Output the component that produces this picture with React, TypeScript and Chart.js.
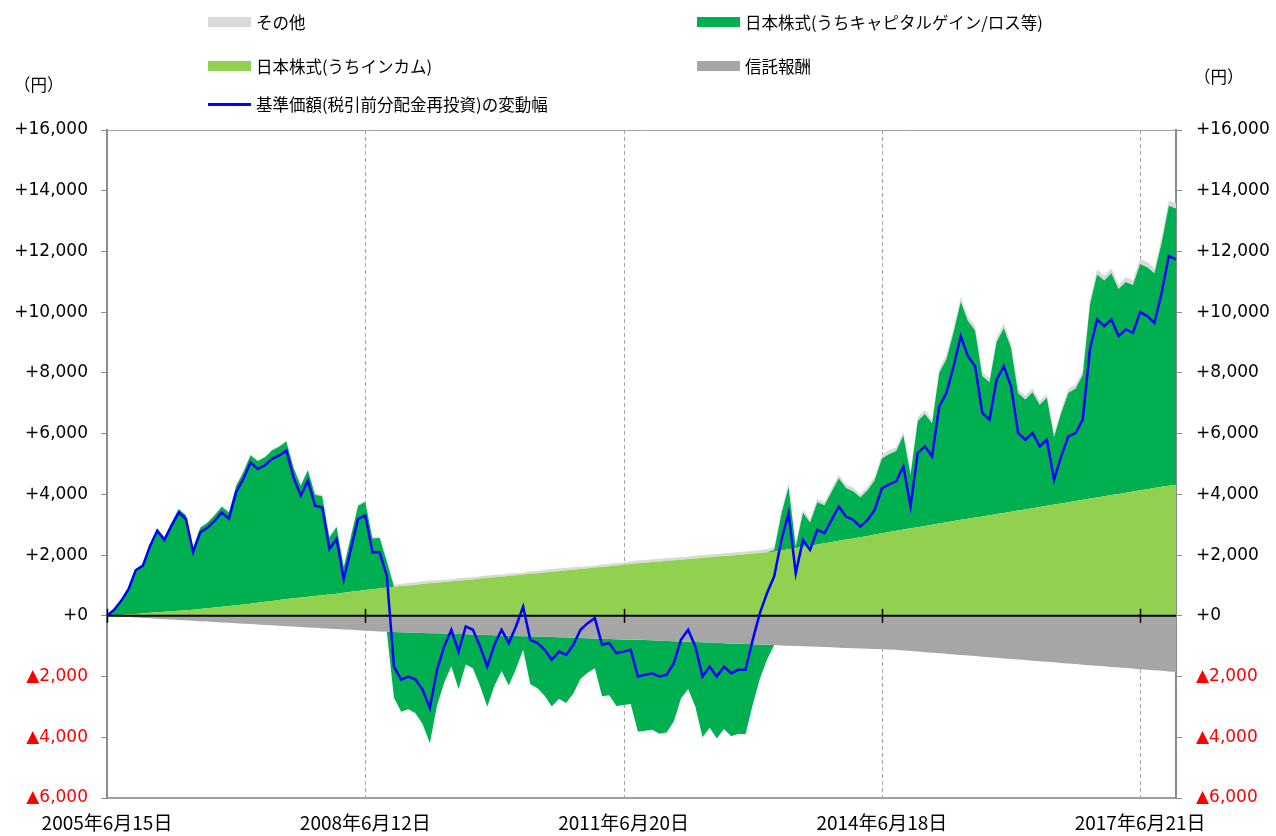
import React, { useEffect, useRef } from 'react';
import { Chart, registerables } from 'chart.js';

Chart.register(...registerables);

// Monthly categories from 2005/6 to 2017/11
const months: string[] = [];
for (let i = 0; i < 150; i++) {
  const y = 2005 + Math.floor((5 + i) / 12);
  const m = ((5 + i) % 12) + 1;
  months.push(`${y}/${m}`);
}

// 基準価額(税引前分配金再投資)の変動幅 (monthly)
const navChange = [
  0, 200, 500, 880, 1500, 1650, 2300, 2800, 2500, 2970,
  3400, 3190, 2100, 2750, 2900, 3130, 3400, 3200, 4070, 4500,
  5050, 4840, 4950, 5170, 5280, 5440, 4560, 3960, 4450, 3630,
  3570, 2200, 2530, 1200, 2200, 3190, 3300, 2090, 2090, 1320,
  -1670, -2100, -2000, -2100, -2440, -3040, -1780, -1010, -460, -1180,
  -350, -460, -1010, -1670, -955, -460, -900, -350, 300, -790,
  -900, -1120, -1450, -1180, -1290, -955, -460, -240, -75, -955,
  -900, -1230, -1180, -1120, -2000, -1945, -1890, -2000, -1945, -1560,
  -790, -460, -1010, -2000, -1670, -2000, -1670, -1890, -1780, -1780,
  -790, 90, 750, 1300, 2500, 3380, 1400, 2500, 2170, 2830,
  2720, 3160, 3600, 3270, 3160, 2940, 3160, 3490, 4200, 4330,
  4430, 4920, 3600, 5360, 5580, 5250, 6900, 7340, 8220, 9210,
  8550, 8220, 6680, 6460, 7780, 8220, 7560, 6020, 5800, 6020,
  5580, 5800, 4480, 5250, 5910, 6020, 6460, 8770, 9760, 9540,
  9760, 9210, 9430, 9320, 10000, 9870, 9650, 10640, 11850, 11740,
];

// 日本株式(うちインカム)
const income = [
  0, 15, 30, 45, 60, 80, 100, 115, 130, 150,
  165, 185, 200, 225, 250, 275, 300, 325, 350, 375,
  400, 430, 460, 490, 520, 550, 575, 600, 625, 650,
  675, 700, 730, 760, 790, 820, 850, 875, 900, 930,
  955, 980, 1000, 1025, 1045, 1070, 1090, 1110, 1135, 1155,
  1180, 1200, 1225, 1245, 1270, 1290, 1315, 1335, 1360, 1385,
  1405, 1430, 1450, 1475, 1500, 1520, 1545, 1565, 1590, 1610,
  1635, 1660, 1680, 1705, 1730, 1750, 1770, 1790, 1810, 1830,
  1850, 1870, 1890, 1910, 1930, 1950, 1970, 1990, 2010, 2030,
  2050, 2070, 2090, 2110, 2150, 2190, 2230, 2270, 2310, 2350,
  2390, 2430, 2470, 2510, 2550, 2590, 2630, 2680, 2720, 2760,
  2800, 2840, 2880, 2920, 2960, 3000, 3040, 3080, 3120, 3160,
  3200, 3240, 3275, 3310, 3350, 3390, 3430, 3470, 3505, 3545,
  3585, 3625, 3665, 3700, 3740, 3780, 3820, 3860, 3900, 3935,
  3975, 4015, 4055, 4095, 4135, 4170, 4210, 4250, 4285, 4320,
];

// 信託報酬
const trustFee = [
  0, -14, -27, -41, -54, -68, -82, -95, -109, -122,
  -136, -150, -163, -177, -190, -204, -218, -231, -245, -258,
  -272, -286, -299, -313, -326, -340, -354, -367, -381, -394,
  -408, -422, -435, -449, -462, -476, -490, -503, -517, -525,
  -532, -540, -548, -555, -563, -570, -578, -586, -593, -601,
  -608, -616, -624, -631, -639, -646, -654, -662, -669, -677,
  -684, -692, -700, -707, -715, -722, -730, -738, -745, -753,
  -760, -768, -776, -783, -790, -799, -808, -818, -827, -836,
  -845, -854, -864, -873, -882, -891, -900, -910, -919, -928,
  -937, -946, -956, -965, -974, -983, -992, -1002, -1011, -1020,
  -1029, -1038, -1048, -1057, -1066, -1075, -1084, -1094, -1103, -1112,
  -1121, -1140, -1158, -1177, -1196, -1215, -1233, -1252, -1271, -1290,
  -1308, -1327, -1346, -1364, -1383, -1402, -1420, -1439, -1458, -1477,
  -1495, -1514, -1533, -1551, -1570, -1589, -1608, -1626, -1645, -1664,
  -1682, -1701, -1720, -1738, -1757, -1776, -1795, -1813, -1832, -1851,
];

// その他
const other = [
  0, 10, 10, 15, 15, 15, 20, 20, 20, 20,
  20, 25, 25, 25, 25, 25, 30, 30, 30, 30,
  30, 30, 30, 35, 35, 35, 35, 35, 35, 35,
  40, 40, 40, 40, 40, 40, 45, 45, 45, 50,
  70, 80, 80, 80, 90, 90, 80, 80, 70, 80,
  70, 70, 80, 80, 80, 70, 80, 70, 60, 80,
  80, 80, 90, 80, 80, 80, 70, 70, 60, 80,
  80, 80, 80, 80, 90, 90, 90, 90, 90, 90,
  80, 80, 90, 90, 90, 90, 90, 90, 90, 90,
  90, 90, 100, 100, 110, 120, 110, 110, 110, 110,
  110, 110, 120, 120, 120, 110, 110, 120, 120, 120,
  120, 120, 110, 120, 130, 120, 130, 140, 150, 160,
  150, 150, 130, 130, 140, 150, 140, 130, 130, 130,
  120, 130, 120, 120, 130, 130, 130, 150, 160, 160,
  160, 150, 160, 160, 170, 170, 160, 170, 180, 180,
];

const xTickIndex = [0, 36, 72, 108, 144];
const xTickLabels = ['2005年6月15日', '2008年6月12日', '2011年6月20日', '2014年6月18日', '2017年6月21日'];

const yMin = -6000;
const yMax = 16000;
const yStep = 2000;

const COLORS = {
  other: '#d9d9d9',
  capital: '#00b050',
  income: '#92d050',
  fee: '#a6a6a6',
  nav: '#0000ff',
};

const FONT_NUM = "'DejaVu Sans', 'Noto Sans CJK JP', sans-serif";
const FONT_JP = "'Noto Sans CJK JP', 'Noto Sans', sans-serif";

const capitalTotal = navChange.map((v, i) => v - income[i] - trustFee[i] - other[i]);
const capitalGain = capitalTotal.map((v) => (v > 0 ? v : 0));
const capitalLoss = capitalTotal.map((v) => (v < 0 ? v : 0));

const NAV_INDEX = 5;

function fmtTick(v: number): string {
  if (v === 0) return '+0';
  const s = Math.abs(v).toLocaleString('en-US');
  return v > 0 ? '+' + s : '▲' + s;
}

const decorPlugin = {
  id: 'decor',
  beforeDatasetsDraw(chart: any) {
    const { ctx, chartArea: a, scales } = chart;
    const xs = scales.x;
    ctx.save();
    ctx.strokeStyle = '#a6a6a6';
    ctx.lineWidth = 1;
    ctx.setLineDash([4, 3]);
    xTickIndex.slice(1).forEach((i) => {
      const px = Math.round(xs.getPixelForValue(i)) + 0.5;
      ctx.beginPath();
      ctx.moveTo(px, a.top);
      ctx.lineTo(px, a.bottom);
      ctx.stroke();
    });
    ctx.setLineDash([]);
    ctx.strokeStyle = '#a0a0a0';
    ctx.beginPath();
    ctx.moveTo(a.left, a.top + 0.5);
    ctx.lineTo(a.right, a.top + 0.5);
    ctx.stroke();
    ctx.restore();
  },
  beforeDatasetDraw(chart: any, args: any) {
    if (args.index !== NAV_INDEX) return;
    const { ctx, chartArea: a, scales } = chart;
    const y0 = scales.y.getPixelForValue(0);
    ctx.save();
    ctx.strokeStyle = '#000000';
    ctx.lineWidth = 2;
    ctx.beginPath();
    ctx.moveTo(a.left, y0);
    ctx.lineTo(a.right, y0);
    ctx.stroke();
    ctx.lineWidth = 1.5;
    xTickIndex.forEach((i) => {
      const px = Math.round(scales.x.getPixelForValue(i)) + 0.5;
      ctx.beginPath();
      ctx.moveTo(px, y0 - 7);
      ctx.lineTo(px, y0 + 7);
      ctx.stroke();
    });
    ctx.restore();
  },
};

const legendItems = [
  { label: 'その他', color: COLORS.other, left: 208, top: 22, line: false },
  { label: '日本株式(うちキャピタルゲイン/ロス等)', color: COLORS.capital, left: 697, top: 22, line: false },
  { label: '日本株式(うちインカム)', color: COLORS.income, left: 208, top: 66, line: false },
  { label: '信託報酬', color: COLORS.fee, left: 697, top: 66, line: false },
  { label: '基準価額(税引前分配金再投資)の変動幅', color: COLORS.nav, left: 208, top: 104, line: true },
];

export default function App() {
  const ref = useRef<HTMLCanvasElement | null>(null);

  useEffect(() => {
    if (!ref.current) return;
    const yTicks = {
      stepSize: yStep,
      callback: (v: any) => fmtTick(Number(v)),
      color: (c: any) => (c.tick && c.tick.value < 0 ? '#ff0000' : '#000000'),
      font: { family: FONT_NUM, size: 17 },
    };
    const chart = new Chart(ref.current, {
      type: 'line',
      data: {
        labels: months,
        datasets: [
          { label: '日本株式(うちインカム)', data: income, stack: 'pos', fill: 'origin', backgroundColor: COLORS.income, borderWidth: 0, pointRadius: 0, yAxisID: 'y' },
          { label: '日本株式(うちキャピタルゲイン/ロス等)', data: capitalGain, stack: 'pos', fill: '-1', backgroundColor: COLORS.capital, borderWidth: 0, pointRadius: 0, yAxisID: 'y' },
          { label: 'その他', data: other, stack: 'pos', fill: '-1', backgroundColor: COLORS.other, borderWidth: 0, pointRadius: 0, yAxisID: 'y' },
          { label: '信託報酬', data: trustFee, stack: 'neg', fill: 'origin', backgroundColor: COLORS.fee, borderWidth: 0, pointRadius: 0, yAxisID: 'y' },
          { label: '日本株式(うちキャピタルロス)', data: capitalLoss, stack: 'neg', fill: '-1', backgroundColor: COLORS.capital, borderWidth: 0, pointRadius: 0, yAxisID: 'y' },
          { label: '基準価額(税引前分配金再投資)の変動幅', data: navChange, fill: false, borderColor: COLORS.nav, borderWidth: 2.5, pointRadius: 0, tension: 0, yAxisID: 'y2', order: -1 },
        ] as any,
      },
      options: {
        responsive: false,
        animation: false,
        layout: { padding: { top: 130, left: 0, right: 0, bottom: 0 } },
        plugins: { legend: { display: false }, tooltip: { enabled: false } },
        scales: {
          x: {
            type: 'category',
            offset: false,
            grid: { display: false },
            border: { display: true, color: '#a0a0a0', width: 2 },
            afterBuildTicks: (scale: any) => {
              scale.ticks = xTickIndex.map((v) => ({ value: v }));
            },
            afterFit: (scale: any) => {
              scale.height = 38;
            },
            ticks: {
              autoSkip: false,
              maxRotation: 0,
              minRotation: 0,
              padding: 5,
              color: '#000000',
              font: { family: FONT_JP, size: 19 },
              callback: (v: any) => {
                const k = xTickIndex.indexOf(Number(v));
                return k >= 0 ? xTickLabels[k] : '';
              },
            },
          },
          y: {
            position: 'left',
            stacked: true,
            min: yMin,
            max: yMax,
            grid: { display: true, drawOnChartArea: false, drawTicks: true, tickLength: 6, color: '#8c8c8c' },
            border: { display: true, color: '#8c8c8c', width: 2 },
            afterFit: (scale: any) => {
              scale.width = 107;
            },
            ticks: { ...yTicks, padding: 13 },
          },
          y2: {
            position: 'right',
            stacked: false,
            min: yMin,
            max: yMax,
            grid: { display: true, drawOnChartArea: false, drawTicks: true, tickLength: 6, color: '#8c8c8c' },
            border: { display: true, color: '#8c8c8c', width: 2 },
            afterFit: (scale: any) => {
              scale.width = 100;
            },
            ticks: { ...yTicks, padding: 14 },
          },
        },
      } as any,
      plugins: [decorPlugin as any],
    });
    return () => chart.destroy();
  }, []);

  return (
    <div style={{ position: 'fixed', left: 0, top: 0, width: 1276, height: 836, background: '#ffffff', overflow: 'hidden' }}>
      <canvas ref={ref} width={1276} height={836} style={{ position: 'absolute', left: 0, top: 0, width: 1276, height: 836 }} />
      {legendItems.map((it) => (
        <div key={it.label} style={{ position: 'absolute', left: it.left, top: it.top - 12, height: 24, display: 'flex', alignItems: 'center', whiteSpace: 'nowrap' }}>
          <div style={{ width: 43, height: it.line ? 3 : 10, background: it.color, marginRight: 5 }} />
          <span style={{ fontFamily: FONT_JP, fontSize: 16.5, color: '#000', lineHeight: '24px' }}>{it.label}</span>
        </div>
      ))}
      <div style={{ position: 'absolute', left: 14, top: 72, fontFamily: FONT_JP, fontSize: 16.5, color: '#000', lineHeight: '24px' }}>（円）</div>
      <div style={{ position: 'absolute', left: 1194, top: 64, fontFamily: FONT_JP, fontSize: 16.5, color: '#000', lineHeight: '24px' }}>（円）</div>
    </div>
  );
}
